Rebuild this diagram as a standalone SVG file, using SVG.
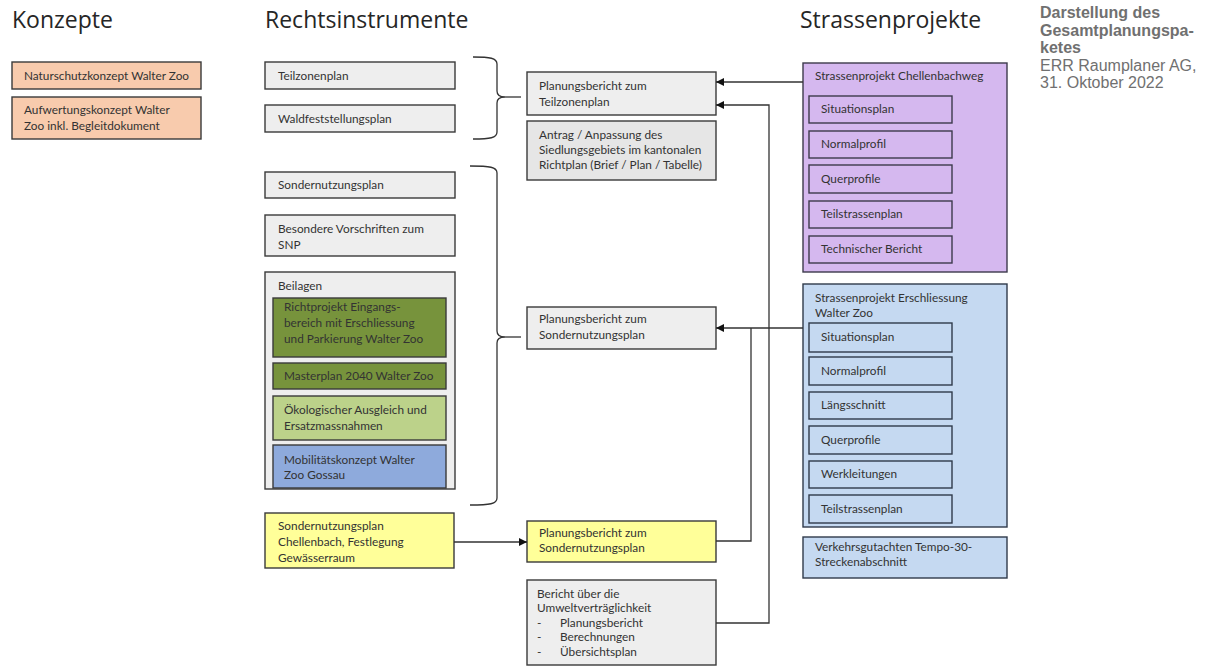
<svg xmlns="http://www.w3.org/2000/svg" width="1224" height="668" viewBox="0 0 1224 668">
<style>
.h{font-family:"Open Sans","Liberation Sans",sans-serif;font-size:23px;fill:#262626}
.t{font-family:Lato,"Liberation Sans",sans-serif;font-size:11.8px;fill:#333}
.b{stroke:#3a3a3a;stroke-width:1.4}
.pk{fill:#f8cbad}
.gr{fill:#eeeeee}
.gr2{fill:#e6e6e6}
.dg{fill:#77933c}
.lg{fill:#bcd28a}
.bl{fill:#8eaadc}
.ye{fill:#ffff99}
.pu{fill:#d5b8ef;stroke:#3c3a4c;stroke-width:1.4}
.lb{fill:#c5d9f1;stroke:#2f3a4a;stroke-width:1.4}
.side{font-family:"Liberation Sans",Arial,sans-serif;font-size:16px;fill:#707070}
.c{fill:none;stroke:#333;stroke-width:1.3}
</style>
<defs>
<marker id="ar" viewBox="0 0 10 10" refX="10" refY="5" markerWidth="8" markerHeight="8" markerUnits="userSpaceOnUse" orient="auto">
<path d="M0,0 L10,5 L0,10 z" fill="#111"/>
</marker>
</defs>

<g id="titles">
<text class="h" x="12" y="28">Konzepte</text>
<text class="h" x="265" y="28">Rechtsinstrumente</text>
<text class="h" x="800" y="28">Strassenprojekte</text>
</g>
<g id="note">
<text class="side" x="1040" y="18" font-weight="bold">Darstellung des</text>
<text class="side" x="1040" y="35.5" font-weight="bold">Gesamtplanungspa-</text>
<text class="side" x="1040" y="53" font-weight="bold">ketes</text>
<text class="side" x="1040" y="70.5">ERR Raumplaner AG,</text>
<text class="side" x="1040" y="88">31. Oktober 2022</text>
</g>

<g id="k1"><rect class="b pk" x="12" y="62" width="189" height="27"/><text class="t" x="24" y="79.5">Naturschutzkonzept Walter Zoo</text></g>
<g id="k2"><rect class="b pk" x="12" y="97" width="189" height="42"/><text class="t" x="24" y="114">Aufwertungskonzept Walter</text><text class="t" x="24" y="130">Zoo inkl. Begleitdokument</text></g>

<g id="r1"><rect class="b gr" x="265" y="62" width="190" height="27"/><text class="t" x="278" y="79.5">Teilzonenplan</text></g>
<g id="r2"><rect class="b gr" x="265" y="105" width="190" height="27"/><text class="t" x="278" y="122.5">Waldfeststellungsplan</text></g>
<g id="r3"><rect class="b gr" x="265" y="172" width="190" height="26"/><text class="t" x="278" y="189">Sondernutzungsplan</text></g>
<g id="r4"><rect class="b gr" x="265" y="215" width="190" height="41"/><text class="t" x="278" y="233">Besondere Vorschriften zum</text><text class="t" x="278" y="249">SNP</text></g>
<g id="beilagen">
<rect class="b gr" x="265" y="272" width="190" height="217"/>
<text class="t" x="278" y="290">Beilagen</text>
<g id="b1"><rect class="b dg" x="273" y="298" width="173" height="59"/><text class="t" x="284" y="311">Richtprojekt Eingangs-</text><text class="t" x="284" y="327">bereich mit Erschliessung</text><text class="t" x="284" y="343">und Parkierung Walter Zoo</text></g>
<g id="b2"><rect class="b dg" x="273" y="363" width="173" height="26"/><text class="t" x="284" y="380">Masterplan 2040 Walter Zoo</text></g>
<g id="b3"><rect class="b lg" x="273" y="396" width="173" height="44"/><text class="t" x="284" y="414">Ökologischer Ausgleich und</text><text class="t" x="284" y="430">Ersatzmassnahmen</text></g>
<g id="b4"><rect class="b bl" x="273" y="445" width="173" height="43"/><text class="t" x="284" y="464">Mobilitätskonzept Walter</text><text class="t" x="284" y="479">Zoo Gossau</text></g>
</g>
<g id="r5"><rect class="b ye" x="265" y="513" width="189" height="55"/><text class="t" x="278" y="530">Sondernutzungsplan</text><text class="t" x="278" y="546">Chellenbach, Festlegung</text><text class="t" x="278" y="562">Gewässerraum</text></g>

<g id="p1"><rect class="b gr" x="527" y="72" width="189" height="43"/><text class="t" x="539" y="90">Planungsbericht zum</text><text class="t" x="539" y="106">Teilzonenplan</text></g>
<g id="p2"><rect class="b gr2" x="527" y="121" width="189" height="59"/><text class="t" x="539" y="139">Antrag / Anpassung des</text><text class="t" x="539" y="154">Siedlungsgebiets im kantonalen</text><text class="t" x="539" y="169">Richtplan (Brief / Plan / Tabelle)</text></g>
<g id="p3"><rect class="b gr" x="527" y="307" width="189" height="42"/><text class="t" x="539" y="323">Planungsbericht zum</text><text class="t" x="539" y="339">Sondernutzungsplan</text></g>
<g id="p4"><rect class="b ye" x="527" y="521" width="189" height="41"/><text class="t" x="539" y="537">Planungsbericht zum</text><text class="t" x="539" y="552">Sondernutzungsplan</text></g>
<g id="p5"><rect class="b gr" x="527" y="580" width="189" height="85"/>
<text class="t" x="537" y="598">Bericht über die</text><text class="t" x="537" y="612">Umweltverträglichkeit</text>
<text class="t" x="537" y="627">-</text><text class="t" x="560" y="627">Planungsbericht</text>
<text class="t" x="537" y="641">-</text><text class="t" x="560" y="641">Berechnungen</text>
<text class="t" x="537" y="656">-</text><text class="t" x="560" y="656">Übersichtsplan</text></g>

<g id="s1">
<rect class="pu" x="803" y="63" width="204" height="209"/>
<text class="t" x="815" y="80">Strassenprojekt Chellenbachweg</text>
<rect class="pu" x="809" y="96" width="143" height="27"/><text class="t" x="821" y="113">Situationsplan</text>
<rect class="pu" x="809" y="131" width="143" height="27"/><text class="t" x="821" y="148">Normalprofil</text>
<rect class="pu" x="809" y="165" width="143" height="28"/><text class="t" x="821" y="183">Querprofile</text>
<rect class="pu" x="809" y="201" width="143" height="27"/><text class="t" x="821" y="218">Teilstrassenplan</text>
<rect class="pu" x="809" y="236" width="143" height="27"/><text class="t" x="821" y="253">Technischer Bericht</text>
</g>
<g id="s2">
<rect class="lb" x="803" y="284" width="204" height="243"/>
<text class="t" x="815" y="302">Strassenprojekt Erschliessung</text><text class="t" x="815" y="317">Walter Zoo</text>
<rect class="lb" x="809" y="323" width="143" height="29"/><text class="t" x="821" y="341">Situationsplan</text>
<rect class="lb" x="809" y="357" width="143" height="28"/><text class="t" x="821" y="375">Normalprofil</text>
<rect class="lb" x="809" y="392" width="143" height="27"/><text class="t" x="821" y="409">Längsschnitt</text>
<rect class="lb" x="809" y="426" width="143" height="28"/><text class="t" x="821" y="444">Querprofile</text>
<rect class="lb" x="809" y="461" width="143" height="27"/><text class="t" x="821" y="478">Werkleitungen</text>
<rect class="lb" x="809" y="495" width="143" height="28"/><text class="t" x="821" y="513">Teilstrassenplan</text>
</g>
<g id="s3"><rect class="lb" x="803" y="537" width="204" height="41"/><text class="t" x="815" y="551">Verkehrsgutachten Tempo-30-</text><text class="t" x="815" y="566">Streckenabschnitt</text></g>

<g id="connectors">
<path class="c" d="M473,57 C490,57 497,58 497,64 L497,91 C497,95 500,97 505,97 C500,97 497,99 497,103 L497,132 C497,138 490,139 473,139"/>
<path class="c" d="M505,97 L521,97"/>
<path class="c" d="M470,166 C490,166 497,167 497,173 L497,331 C497,335 500,337 505,337 C500,337 497,339 497,343 L497,498 C497,504 490,505 470,505"/>
<path class="c" d="M505,337 L521,337"/>
<path class="c" d="M803,82 L716,82" marker-end="url(#ar)"/>
<path class="c" d="M716,623 L769,623 L769,105 L716,105" marker-end="url(#ar)"/>
<path class="c" d="M803,328 L716,328" marker-end="url(#ar)"/>
<path class="c" d="M716,541 L751,541 L751,328"/>
<path class="c" d="M454,542 L527,542" marker-end="url(#ar)"/>
</g>
</svg>
